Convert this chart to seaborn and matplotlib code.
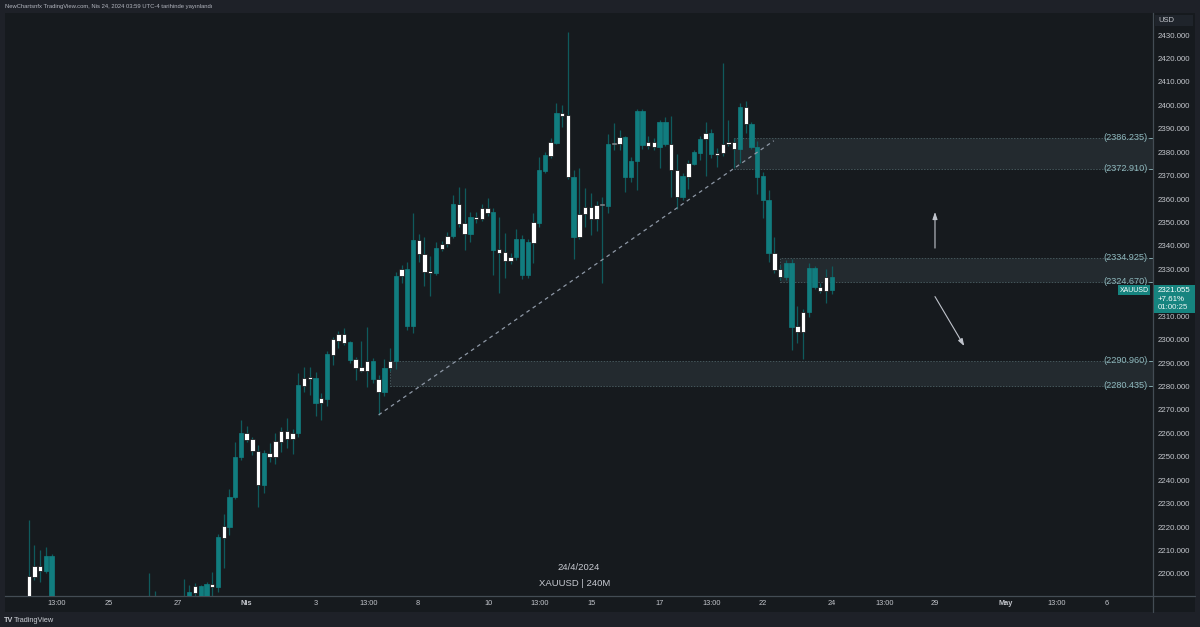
import numpy as np
import pandas as pd
import matplotlib
matplotlib.use("Agg")
import matplotlib.pyplot as plt
import seaborn as sns
from matplotlib.patches import Rectangle
from matplotlib.lines import Line2D
from matplotlib import transforms

# ---------------- data ----------------
opens = [
    2186.0, 2198.8, 2201.4, 2201.4, 2207.7, 2181.0, 2175.0, 2168.0, 2163.0, 2166.0,
    2168.0, 2165.0, 2160.0, 2164.0, 2169.0, 2172.0, 2170.0, 2174.0, 2178.0, 2175.0,
    2177.0, 2182.0, 2179.0, 2177.0, 2173.0, 2176.0, 2179.0, 2184.0, 2188.0, 2192.0,
    2194.9, 2189.5, 2194.6, 2194.6, 2215.5, 2220.2, 2233.0, 2250.1, 2260.3, 2257.5,
    2252.5, 2238.0, 2250.1, 2250.1, 2256.5, 2257.5, 2257.5, 2260.1, 2280.2, 2283.1,
    2283.8, 2273.1, 2274.7, 2293.5, 2299.6, 2298.5, 2298.9, 2288.1, 2286.8, 2286.8,
    2291.0, 2277.8, 2277.8, 2287.8, 2290.9, 2327.2, 2330.2, 2306.0, 2336.4, 2329.0,
    2328.3, 2328.3, 2338.7, 2340.7, 2344.3, 2349.4, 2345.0, 2352.5, 2351.4, 2351.4,
    2354.2, 2354.7, 2337.1, 2333.7, 2333.7, 2335.2, 2343.0, 2327.6, 2341.4, 2349.7,
    2372.1, 2378.5, 2384.1, 2395.6, 2395.9, 2369.3, 2344.0, 2353.5, 2351.5, 2351.5,
    2357.5, 2357.2, 2383.5, 2383.4, 2386.3, 2369.6, 2376.3, 2397.8, 2382.7, 2382.1,
    2382.1, 2393.1, 2383.5, 2372.4, 2361.0, 2369.6, 2375.0, 2379.8, 2385.5, 2388.1,
    2378.8, 2379.6, 2383.5, 2381.4, 2381.4, 2392.1, 2392.1, 2382.4, 2369.9, 2359.6,
    2329.7, 2326.9, 2326.9, 2332.6, 2303.4, 2303.4, 2312.0, 2330.5, 2320.9, 2320.9,
    2326.9]
highs = [
    2223.0, 2212.4, 2210.2, 2211.7, 2208.5, 2186.0, 2179.0, 2172.0, 2170.0, 2172.0,
    2174.0, 2168.0, 2166.0, 2171.0, 2175.0, 2177.0, 2176.0, 2181.0, 2183.0, 2180.0,
    2185.0, 2200.3, 2192.7, 2183.0, 2178.0, 2182.0, 2186.0, 2197.7, 2195.3, 2196.3,
    2195.3, 2196.7, 2200.7, 2216.9, 2225.5, 2236.1, 2256.5, 2265.7, 2263.3, 2258.3,
    2255.1, 2253.0, 2255.8, 2260.0, 2262.9, 2266.5, 2262.0, 2285.9, 2288.2, 2288.2,
    2286.1, 2277.1, 2295.3, 2301.3, 2303.5, 2305.1, 2299.6, 2292.5, 2299.4, 2305.6,
    2292.0, 2285.0, 2291.8, 2296.3, 2329.0, 2332.0, 2333.0, 2354.2, 2345.0, 2343.7,
    2335.7, 2341.8, 2342.0, 2345.8, 2361.8, 2365.3, 2364.6, 2354.7, 2354.5, 2358.0,
    2360.4, 2356.0, 2352.5, 2345.4, 2337.0, 2347.1, 2344.5, 2343.0, 2354.0, 2377.8,
    2380.0, 2386.0, 2400.9, 2400.2, 2431.5, 2372.4, 2373.2, 2364.6, 2362.7, 2359.0,
    2361.0, 2387.8, 2392.4, 2389.5, 2387.0, 2378.1, 2398.5, 2398.5, 2386.9, 2386.0,
    2393.8, 2395.2, 2395.5, 2379.3, 2371.0, 2376.5, 2381.0, 2387.0, 2393.1, 2390.0,
    2382.0, 2418.0, 2393.8, 2386.0, 2400.9, 2402.0, 2393.0, 2385.0, 2371.5, 2363.9,
    2343.7, 2332.0, 2334.0, 2334.3, 2314.4, 2313.0, 2332.6, 2331.5, 2324.0, 2330.0,
    2331.5]
lows = [
    2180.0, 2197.4, 2196.7, 2200.4, 2178.0, 2172.0, 2165.0, 2160.0, 2158.0, 2162.0,
    2163.0, 2157.0, 2156.0, 2161.0, 2165.0, 2168.0, 2166.0, 2170.0, 2172.0, 2171.0,
    2174.0, 2177.0, 2175.0, 2170.0, 2168.0, 2172.0, 2176.0, 2181.0, 2185.0, 2188.0,
    2186.0, 2187.0, 2189.0, 2192.4, 2202.4, 2216.6, 2231.9, 2248.7, 2256.5, 2251.0,
    2228.7, 2234.7, 2247.9, 2246.8, 2252.2, 2253.6, 2251.1, 2258.6, 2277.8, 2276.4,
    2267.4, 2265.7, 2271.7, 2289.2, 2296.3, 2297.7, 2290.0, 2282.8, 2286.3, 2279.9,
    2281.4, 2267.9, 2276.0, 2286.5, 2287.4, 2324.0, 2304.1, 2302.7, 2333.0, 2322.8,
    2318.8, 2327.6, 2337.7, 2339.5, 2343.3, 2348.0, 2338.3, 2341.8, 2350.0, 2350.5,
    2353.0, 2327.6, 2319.8, 2326.2, 2332.5, 2334.0, 2325.8, 2326.5, 2332.6, 2348.3,
    2371.0, 2377.5, 2383.5, 2390.6, 2368.5, 2334.3, 2343.0, 2348.3, 2344.7, 2346.5,
    2324.3, 2354.2, 2381.0, 2381.0, 2363.2, 2367.4, 2363.9, 2381.5, 2381.5, 2381.0,
    2373.2, 2382.5, 2361.0, 2355.7, 2359.5, 2364.2, 2374.5, 2376.7, 2369.9, 2377.5,
    2373.9, 2378.5, 2382.5, 2373.2, 2375.3, 2388.1, 2381.3, 2362.1, 2351.8, 2333.3,
    2328.5, 2325.5, 2325.5, 2295.6, 2298.7, 2291.6, 2309.8, 2321.5, 2320.0, 2315.8,
    2319.5]
closes = [
    2199.1, 2203.4, 2203.4, 2207.7, 2181.0, 2175.0, 2168.0, 2163.0, 2166.0, 2168.0,
    2165.0, 2160.0, 2164.0, 2169.0, 2172.0, 2170.0, 2174.0, 2178.0, 2175.0, 2177.0,
    2182.0, 2179.0, 2177.0, 2173.0, 2176.0, 2179.0, 2184.0, 2188.0, 2192.4, 2194.9,
    2189.0, 2195.9, 2195.9, 2215.9, 2220.5, 2233.0, 2250.1, 2260.3, 2257.2, 2252.5,
    2238.0, 2251.5, 2251.8, 2256.8, 2261.0, 2261.0, 2260.3, 2280.7, 2283.5, 2284.0,
    2273.1, 2275.0, 2293.9, 2300.2, 2302.4, 2302.4, 2291.3, 2291.6, 2288.2, 2291.0,
    2283.2, 2283.2, 2288.1, 2291.0, 2327.3, 2330.2, 2306.0, 2342.5, 2342.5, 2336.4,
    2329.3, 2339.0, 2340.8, 2344.3, 2357.8, 2357.8, 2349.7, 2345.0, 2352.5, 2356.4,
    2356.4, 2338.3, 2338.6, 2337.6, 2335.4, 2343.0, 2327.6, 2341.6, 2350.2, 2372.4,
    2378.8, 2384.2, 2396.6, 2396.6, 2369.3, 2344.0, 2353.5, 2356.8, 2356.8, 2357.5,
    2357.3, 2383.5, 2383.8, 2386.3, 2369.6, 2376.3, 2397.8, 2383.0, 2384.5, 2384.5,
    2393.1, 2383.5, 2372.4, 2361.0, 2369.9, 2375.3, 2380.0, 2385.5, 2388.1, 2379.1,
    2379.8, 2383.5, 2384.5, 2384.5, 2399.4, 2399.4, 2382.4, 2369.6, 2359.6, 2336.9,
    2336.9, 2330.0, 2332.6, 2305.5, 2305.8, 2312.0, 2330.5, 2322.4, 2322.4, 2326.9,
    2321.055]
candle_kind = (
    "w w w t t t t t t t "
    "t t t t t t t t t t "
    "t t t t t t t t t w "
    "t t w t w t t t w w "
    "w t w w w w w t w w "
    "t w t w w w t w w w "
    "t w t w t w t t w w "
    "w t w w t w w t w w "
    "w t w w w t t t w t "
    "t w t w w t w w w w "
    "g t g w t t t t w w "
    "t t w w t w t t w t "
    "w w w w t w t t t t "
    "w w t t w w t t w w "
    "t").split()
bar_index = list(range(len(opens)))

zone_low = [2372.910, 2324.670, 2280.435]
zone_high = [2386.235, 2334.925, 2290.960]
zone_start_bar = [123, 131, 63]

trend_bars = [61.0, 129.9]
trend_prices = [2267.9, 2384.9]

arrow_up = [(158.0, 2339.1), (158.0, 2354.5)]
arrow_down = [(158.0, 2318.4), (163.1, 2297.3)]

tick_bars = [4.8, 14, 25.9, 38, 50, 59.2, 67.9, 80.2, 89.0, 98.2, 109.9, 119.1,
             128, 140, 149.3, 158, 170.4, 179.3, 188]
tick_labels = ["13:00", "25", "27", "Nis", "3", "13:00", "8", "10", "13:00", "15",
               "17", "13:00", "22", "24", "13:00", "29", "May", "13:00", "6"]
price_ticks = list(range(2200, 2431, 10))

last_price = 2321.055
change_txt = "+7.61%"
countdown_txt = "01:00:25"

# ---------------- style ----------------
sns.set_theme(style="dark")
plt.rcParams["font.family"] = ["Liberation Sans", "DejaVu Sans"]

FRAME = "#1e2128"
CHART = "#161a1e"
TEAL = "#117d7f"
WICK = "#0f5a5d"
AXLINE = "#434c54"
LABEL = "#c3c6cc"

W, H = 1200, 627
fig = plt.figure(figsize=(12, 6.27), dpi=100, facecolor=FRAME)


def fx(px):
    return px / W


def fy(py):
    return 1 - py / H


fig.add_artist(Rectangle((fx(5), fy(612)), fx(1195) - fx(5), fy(13) - fy(612),
                         transform=fig.transFigure, facecolor=CHART,
                         edgecolor="none", zorder=0))

ax = fig.add_axes([fx(5), fy(596), fx(1153) - fx(5), fy(13) - fy(596)])
ax.set_facecolor(CHART)

n = min(len(opens), len(highs), len(lows), len(closes), len(candle_kind))
df = pd.DataFrame({"bar": bar_index[:n], "open": opens[:n], "high": highs[:n],
                   "low": lows[:n], "close": closes[:n], "kind": candle_kind[:n]})

body_lo = np.minimum(df["open"], df["close"])
body_h = np.maximum(np.abs(df["close"] - df["open"]), 0.5)
face_map = {"t": TEAL, "w": "#ffffff", "g": "#b9bdc3"}
edge_map = {"t": TEAL, "w": "#0a0c0f", "g": "#6e7378"}
faces = df["kind"].map(face_map)
edges = df["kind"].map(edge_map)

ax.vlines(df["bar"], df["low"], df["high"], color=WICK, lw=0.9, zorder=2)
ax.bar(df["bar"], body_h, bottom=body_lo, width=0.76, color=faces,
       edgecolor=edges, linewidth=0.5, zorder=3)

for lo, hi, st in zip(zone_low, zone_high, zone_start_bar):
    ax.add_patch(Rectangle((st, lo), 400, hi - lo, facecolor="#232a2f",
                           edgecolor="#45565b", linestyle=(0, (1.5, 1.5)),
                           lw=0.7, zorder=1))

sns.lineplot(x=trend_bars, y=trend_prices, ax=ax, color="#8e98a6", lw=0.9,
             linestyle=(0, (3, 3)), zorder=4)

for (x0, y0), (x1, y1) in [arrow_up, arrow_down]:
    ax.annotate("", xy=(x1, y1), xytext=(x0, y0),
                arrowprops=dict(arrowstyle="-|>,head_length=0.35,head_width=0.12",
                                color="#c0c4cc", lw=0.8, shrinkA=0, shrinkB=0))

xmin = (5 - 28.7) / 5.736
xmax = (1153 - 28.7) / 5.736
ax.set_xlim(xmin, xmax)
ax.set_ylim(2200 + (574 - 596) / 2.343, 2200 + (574 - 13) / 2.343)

ax.set_xticks(tick_bars)
ax.set_xticklabels(tick_labels)
for lab in ax.get_xticklabels():
    if lab.get_text() in ("Nis", "May"):
        lab.set_fontweight("bold")
ax.set_yticks(price_ticks)
# the 2320 label sits under the live-price tag, so it is left blank
ax.set_yticklabels(["" if v == 2320 else f"{v:.3f}" for v in price_ticks])
ax.yaxis.tick_right()
ax.tick_params(axis="x", length=0, pad=2.6, labelsize=5.3, labelcolor=LABEL)
ax.tick_params(axis="y", length=0, pad=3.6, labelsize=5.7, labelcolor=LABEL)
ax.grid(False)
for s in ("top", "left"):
    ax.spines[s].set_visible(False)
for s in ("right", "bottom"):
    ax.spines[s].set_color(AXLINE)
    ax.spines[s].set_linewidth(0.9)
ax.set_xlabel("")
ax.set_ylabel("")

fig.add_artist(Line2D([fx(1153), fx(1153)], [fy(596), fy(612)],
                      transform=fig.transFigure, color=AXLINE, lw=0.9))
fig.add_artist(Line2D([fx(1153), fx(1195)], [fy(596), fy(596)],
                      transform=fig.transFigure, color=AXLINE, lw=0.9))

blend = transforms.blended_transform_factory(fig.transFigure, ax.transData)

for v in zone_low + zone_high:
    fig.text(fx(1147.5), v, f"({v:.3f})", transform=blend, ha="right",
             va="center", fontsize=6.6, color="#8fb9be")
    fig.add_artist(Line2D([fx(1149), fx(1152)], [v, v], transform=blend,
                          color="#8fb9be", lw=0.6))

px_per_price = 2.343
fig.add_artist(Rectangle((fx(1118), last_price - 5 / px_per_price), fx(1150) - fx(1118),
                         10 / px_per_price, transform=blend, facecolor="#16847f",
                         edgecolor="none", zorder=5))
fig.text(fx(1134), last_price, "XAUUSD", transform=blend, ha="center",
         va="center", fontsize=5.0, color="#ffffff", zorder=6)
fig.add_artist(Rectangle((fx(1153.5), last_price - 23 / px_per_price),
                         fx(1195) - fx(1153.5), 28 / px_per_price, transform=blend,
                         facecolor="#16847f", edgecolor="none", zorder=5))
fig.text(fx(1158), last_price, f"{last_price:.3f}", transform=blend, ha="left",
         va="center", fontsize=5.7, color="#ffffff", zorder=6)
fig.text(fx(1158), last_price - 9 / px_per_price, change_txt, transform=blend,
         ha="left", va="center", fontsize=5.7, color="#ffffff", zorder=6)
fig.text(fx(1158), last_price - 16.7 / px_per_price, countdown_txt, transform=blend,
         ha="left", va="center", fontsize=5.7, color="#e6f2f1", zorder=6)

fig.add_artist(Rectangle((fx(1155), fy(26)), fx(1193) - fx(1155), fy(15) - fy(26),
                         transform=fig.transFigure, facecolor="#1f242b",
                         edgecolor="none"))
fig.text(fx(1158), fy(20.5), "USD", ha="left", va="center", fontsize=5.5,
         color=LABEL)

fig.text(fx(5), fy(6.5), "NewChartsnfx TradingView.com, Nis 24, 2024 03:59 UTC-4 tarihinde yayınlandı",
         ha="left", va="center", fontsize=4.2, color="#b2b5be")
fig.text(fx(4), fy(620), "TV", ha="left", va="center", fontsize=5.2,
         color="#c9ccd2", fontweight="bold")
fig.text(fx(14), fy(620), "TradingView", ha="left", va="center", fontsize=5.3,
         color="#c9ccd2")

fig.text(fx(579), fy(567.7), "24/4/2024", ha="center", va="center",
         fontsize=6.8, color="#c8cbd2")
fig.text(fx(575), fy(583.3), "XAUUSD | 240M", ha="center", va="center",
         fontsize=6.8, color="#c8cbd2")

fig.savefig("out.png", dpi=100, facecolor=FRAME)
